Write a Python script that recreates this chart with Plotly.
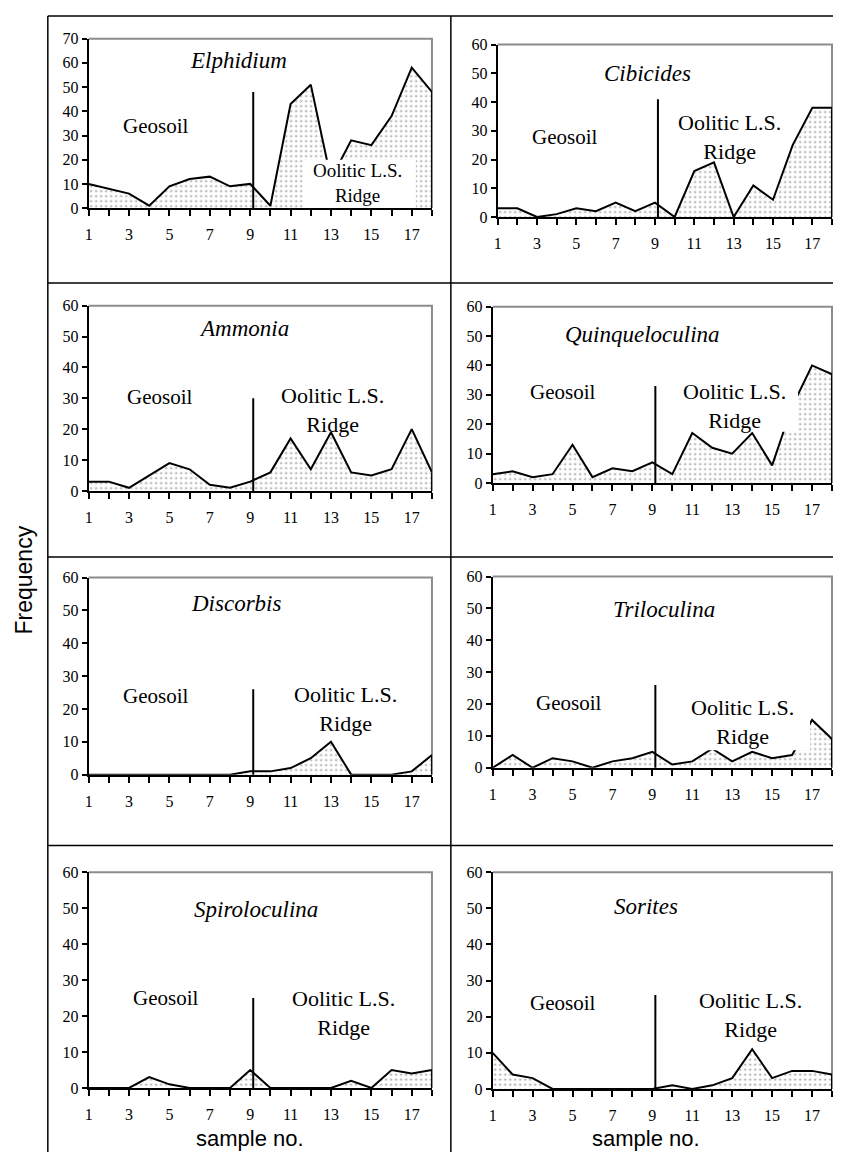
import plotly.graph_objects as go

# ---------------- data ----------------
samples = list(range(1, 19))
x_tick_labels = [str(s) if s % 2 == 1 else "" for s in samples]

elphidium = [10, 8, 6, 1, 9, 12, 13, 9, 10, 1, 43, 51, 12, 28, 26, 38, 58, 48]
cibicides = [3, 3, 0, 1, 3, 2, 5, 2, 5, 0, 16, 19, 0, 11, 6, 25, 38, 38]
ammonia = [3, 3, 1, 5, 9, 7, 2, 1, 3, 6, 17, 7, 19, 6, 5, 7, 20, 6]
quinqueloculina = [3, 4, 2, 3, 13, 2, 5, 4, 7, 3, 17, 12, 10, 17, 6, 26, 40, 37]
discorbis = [0, 0, 0, 0, 0, 0, 0, 0, 1, 1, 2, 5, 10, 0, 0, 0, 1, 6]
triloculina = [0, 4, 0, 3, 2, 0, 2, 3, 5, 1, 2, 6, 2, 5, 3, 4, 15, 9]
spiroloculina = [0, 0, 0, 3, 1, 0, 0, 0, 5, 0, 0, 0, 0, 2, 0, 5, 4, 5]
sorites = [10, 4, 3, 0, 0, 0, 0, 0, 0, 1, 0, 1, 3, 11, 3, 5, 5, 4]

genera = ["Elphidium", "Cibicides", "Ammonia", "Quinqueloculina",
          "Discorbis", "Triloculina", "Spiroloculina", "Sorites"]
series = [elphidium, cibicides, ammonia, quinqueloculina,
          discorbis, triloculina, spiroloculina, sorites]
y_max = [70, 60, 60, 60, 60, 60, 60, 60]
zone_labels = ["Geosoil", "Oolitic L.S.<br>Ridge"]
x_title = "sample no."
y_title = "Frequency"

# ---------------- layout config (pixels / positions) ----------------
PAGE_MARGIN = 8            # browser default body margin
W, H = 841 - 2 * PAGE_MARGIN, 1169 - 2 * PAGE_MARGIN


def fx(px):
    return (px - PAGE_MARGIN) / W


def fy(py):
    return 1 - (py - PAGE_MARGIN) / H


# plot box in page pixels: left, right, top, bottom
boxes = [
    (85, 430, 31, 203),
    (496, 832, 37, 212),
    (85, 430, 302, 490),
    (491, 832, 303, 482),
    (85, 430, 578, 778),
    (491, 832, 577, 771),
    (85, 430, 877, 1096),
    (491, 832, 877, 1097),
]
divider_x = 9.15
divider_top = [48, 41, 30, 33, 26, 26, 25, 26]
title_pos = [(8.4, 61), (8.6, 50), (8.7, 52.7), (8.5, 50.4),
             (8.3, 52), (9.6, 49.8), (9.3, 49.6), (8.7, 50.5)]
geo_pos = [(4.3, 34), (4.4, 28), (4.5, 30.3), (4.5, 30.8),
           (4.3, 23.9), (4.8, 20.4), (4.8, 24.9), (4.5, 23.7)]
ool_pos = [(14.3, 10.2), (12.8, 28), (13.1, 26.3), (13.1, 26.3),
           (13.7, 19.9), (13.5, 14.5), (13.6, 20.8), (13.9, 20.5)]
ool_size = [19, 22, 22, 22, 22, 22, 22, 22]
# white boxes behind the "Oolitic" labels that hide the area (x0, x1, y0, y1)
white_boxes = {0: (11.6, 17.2, 0, 20), 3: (11.5, 16.3, 17.4, 38), 5: (11.5, 16.9, 5.5, 22)}

SERIF = "Liberation Serif"
SANS = "Liberation Sans"

fig = go.Figure()
shapes = []
annotations = []

for i, (name, vals) in enumerate(zip(genera, series)):
    n = i + 1
    xa = "x" if n == 1 else f"x{n}"
    ya = "y" if n == 1 else f"y{n}"
    left, right, top, bottom = boxes[i]
    fig.add_trace(go.Scatter(
        x=samples, y=vals, xaxis=xa, yaxis=ya, mode="lines",
        line=dict(color="black", width=2),
        fill="tozeroy",
        fillcolor="white",
        fillpattern=dict(shape=".", fgcolor="#333333", bgcolor="white",
                         size=5, solidity=0.15),
        showlegend=False, hoverinfo="skip", cliponaxis=False,
    ))
    xkey = "xaxis" if n == 1 else f"xaxis{n}"
    ykey = "yaxis" if n == 1 else f"yaxis{n}"
    fig.update_layout(**{
        xkey: dict(
            domain=[fx(left), fx(right)], anchor=ya,
            range=[1, 18], tickmode="array", tickvals=samples, ticktext=x_tick_labels,
            ticks="outside", ticklen=6, tickcolor="black", tickwidth=1.5,
            showline=True, linecolor="black", linewidth=2,
            showgrid=False, zeroline=False, ticklabelstandoff=5,
            tickfont=dict(family=SERIF, size=16, color="black"),
        ),
        ykey: dict(
            domain=[fy(bottom), fy(top)], anchor=xa,
            range=[0, y_max[i]], dtick=10,
            ticks="outside", ticklen=5, tickcolor="black", tickwidth=1.5,
            showline=True, linecolor="black", linewidth=2,
            showgrid=False, zeroline=False,
            tickfont=dict(family=SERIF, size=16, color="black"),
        ),
    })
    # gray frame (top and right)
    shapes.append(dict(type="path", xref="paper", yref="paper",
                       path=f"M {fx(left)},{fy(top)} L {fx(right)},{fy(top)} L {fx(right)},{fy(bottom)}",
                       line=dict(color="#8c8c8c", width=2), layer="below"))
    # black border of the area at its right end
    shapes.append(dict(type="line", xref=xa, yref=ya, x0=samples[-1], x1=samples[-1],
                       y0=0, y1=vals[-1], line=dict(color="black", width=2), layer="above"))
    # white masking box
    if i in white_boxes:
        bx0, bx1, by0, by1 = white_boxes[i]
        shapes.append(dict(type="rect", xref=xa, yref=ya, x0=bx0, x1=bx1, y0=by0, y1=by1,
                           fillcolor="white", line=dict(width=0), layer="above"))
    # divider line
    shapes.append(dict(type="line", xref=xa, yref=ya, x0=divider_x, x1=divider_x,
                       y0=-y_max[i] * 0.025, y1=divider_top[i],
                       line=dict(color="black", width=2), layer="above"))
    # texts
    annotations.append(dict(xref=xa, yref=ya, x=title_pos[i][0], y=title_pos[i][1],
                            text=f"<i>{name}</i>", showarrow=False,
                            xanchor="center", yanchor="middle",
                            font=dict(family=SERIF, size=23, color="black")))
    annotations.append(dict(xref=xa, yref=ya, x=geo_pos[i][0], y=geo_pos[i][1],
                            text=zone_labels[0], showarrow=False,
                            xanchor="center", yanchor="middle",
                            font=dict(family=SERIF, size=21, color="black")))
    annotations.append(dict(xref=xa, yref=ya, x=ool_pos[i][0], y=ool_pos[i][1],
                            text=zone_labels[1], showarrow=False,
                            xanchor="center", yanchor="middle",
                            font=dict(family=SERIF, size=ool_size[i], color="black")))

# axis titles
annotations.append(dict(xref="paper", yref="paper", x=fx(20), y=fy(580),
                        text=y_title, textangle=-90, showarrow=False,
                        xanchor="center", yanchor="middle",
                        font=dict(family=SANS, size=23, color="black")))
for cx in (247, 645):
    annotations.append(dict(xref="paper", yref="paper", x=fx(cx), y=fy(1147),
                            text=x_title, showarrow=False,
                            xanchor="center", yanchor="middle",
                            font=dict(family=SANS, size=22, color="black")))

# table lines
tbl = dict(color="black", width=1.5)
for yy in (8, 279, 557, 850):
    shapes.append(dict(type="line", xref="paper", yref="paper", x0=fx(44), x1=1,
                       y0=fy(yy), y1=fy(yy), line=tbl))
for xx in (44, 449):
    shapes.append(dict(type="line", xref="paper", yref="paper", x0=fx(xx), x1=fx(xx),
                       y0=fy(8), y1=0, line=tbl))

fig.update_layout(
    width=W, height=H, margin=dict(l=0, r=0, t=0, b=0),
    paper_bgcolor="white", plot_bgcolor="white",
    shapes=shapes, annotations=annotations, showlegend=False,
)

fig.write_html("out.html", config={"displayModeBar": False})
